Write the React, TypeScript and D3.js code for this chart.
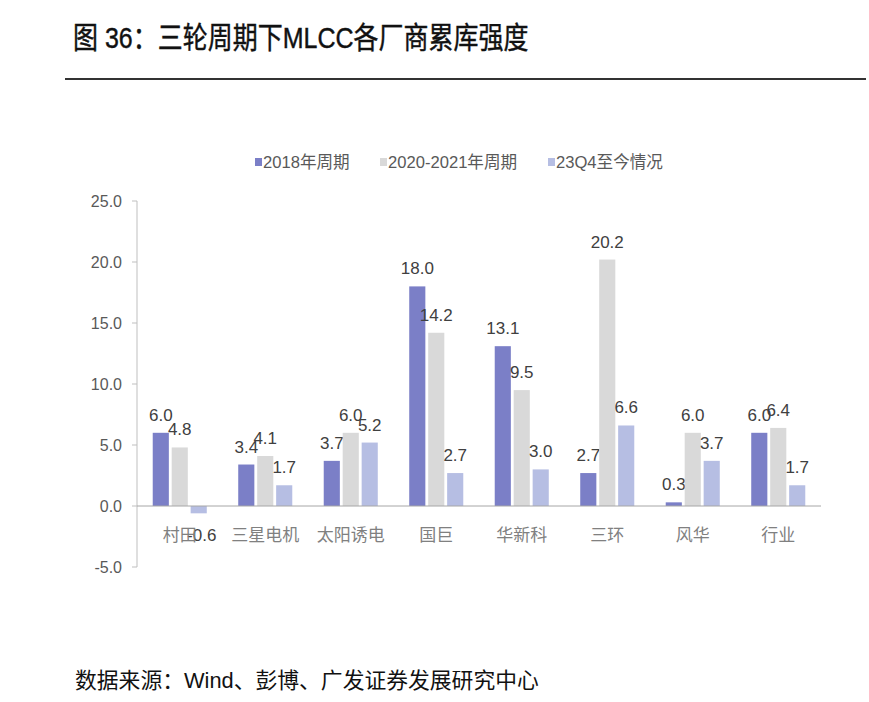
import React from 'react'
import * as d3 from 'd3'

const categories = ['村田', '三星电机', '太阳诱电', '国巨', '华新科', '三环', '风华', '行业']
const seriesNames = ['2018年周期', '2020-2021年周期', '23Q4至今情况']
const cycle2018 = [6.0, 3.4, 3.7, 18.0, 13.1, 2.7, 0.3, 6.0]
const cycle2020 = [4.8, 4.1, 6.0, 14.2, 9.5, 20.2, 6.0, 6.4]
const since23Q4 = [-0.6, 1.7, 5.2, 2.7, 3.0, 6.6, 3.7, 1.7]
const yTicks = [-5, 0, 5, 10, 15, 20, 25]

const colors = ['#7b7fc7', '#d9d9d9', '#b6bee3']
const latin = '"Liberation Sans", Arial, "Noto Sans CJK SC", sans-serif'

export default function App() {
  const width = 869
  const height = 702
  const plot = { left: 137, right: 821, top: 201, bottom: 567 }

  const series = [cycle2018, cycle2020, since23Q4]

  const x0 = d3.scaleBand<string>()
    .domain(categories)
    .range([plot.left, plot.right])
    .paddingInner(0.368)
    .paddingOuter(0.184)

  const x1 = d3.scaleBand<number>()
    .domain([0, 1, 2])
    .range([0, x0.bandwidth()])
    .paddingInner(0.15)

  const y = d3.scaleLinear().domain([-5, 25]).range([plot.bottom, plot.top])

  // legend item positions (x of the square)
  const legendX = [255, 380, 548]

  return (
    <svg width={width} height={height} viewBox={`0 0 ${width} ${height}`}
      style={{ position: 'absolute', left: 0, top: 0, background: '#fff' }}>
      {/* Title */}
      <text transform="translate(73,48) scale(1,1.2)" fontSize={25} fontWeight={400}
        stroke="#111" strokeWidth={0.35} fontFamily={latin} fill="#111">图 36：三轮周期下MLCC各厂商累库强度</text>
      <line x1={65} x2={866} y1={79} y2={79} stroke="#333" strokeWidth={2} />

      {/* Legend */}
      {seriesNames.map((name, i) => (
        <g key={name}>
          <rect x={legendX[i]} y={158} width={7} height={8} fill={colors[i]} />
          <text x={legendX[i] + 8} y={168} fontSize={16.6} fontFamily={latin} fill="#595959">{name}</text>
        </g>
      ))}

      {/* Y axis */}
      <line x1={plot.left} x2={plot.left} y1={plot.top} y2={plot.bottom} stroke="#bfbfbf" />
      {yTicks.map(t => (
        <g key={t}>
          <line x1={plot.left - 5} x2={plot.left} y1={y(t)} y2={y(t)} stroke="#bfbfbf" />
          <text x={122} y={y(t) + 6} textAnchor="end" fontSize={16} fontFamily={latin} fill="#595959">
            {t.toFixed(1)}
          </text>
        </g>
      ))}

      {/* Bars */}
      {categories.map((c, ci) => (
        <g key={c} transform={`translate(${x0(c)},0)`}>
          {series.map((vals, si) => {
            const v = vals[ci]
            const top = y(Math.max(0, v))
            const bot = y(Math.min(0, v))
            const cx = (x1(si) || 0) + x1.bandwidth() / 2
            return (
              <g key={si}>
                <rect x={x1(si)} y={top} width={x1.bandwidth()} height={bot - top} fill={colors[si]} />
                <text x={v >= 0 ? cx : cx + 3} y={v >= 0 ? top - 12 : bot + 28} textAnchor="middle" fontSize={17}
                  fontFamily={latin} fill="#404040">{v.toFixed(1)}</text>
              </g>
            )
          })}
        </g>
      ))}

      {/* Zero line */}
      <line x1={plot.left} x2={plot.right} y1={y(0)} y2={y(0)} stroke="#a6a6a6" />

      {/* Category labels */}
      {categories.map(c => (
        <text key={c} x={(x0(c) || 0) + x0.bandwidth() / 2} y={541} textAnchor="middle" fontSize={17}
          fontFamily={latin} fill="#808080">{c}</text>
      ))}

      {/* Footer */}
      <text x={75} y={688} fontSize={21.8} fontFamily={latin} fill="#111">数据来源：Wind、彭博、广发证券发展研究中心</text>
    </svg>
  )
}
